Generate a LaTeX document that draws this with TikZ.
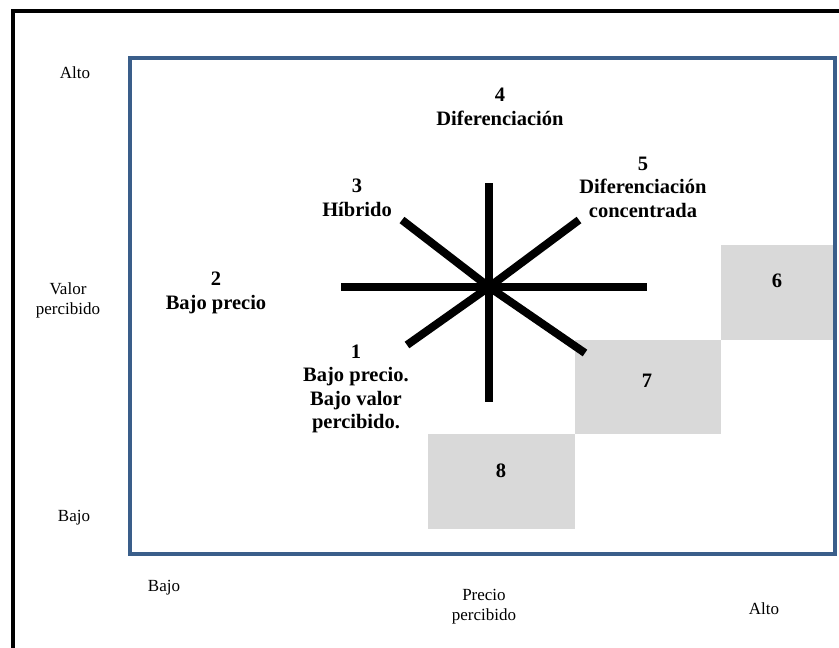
\documentclass[tikz,border=0pt]{standalone}
\usepackage{fontspec}
\setmainfont{Liberation Serif}
\definecolor{frameblue}{RGB}{58,94,138}
\definecolor{boxgray}{RGB}{217,217,217}
\tikzset{
  axislbl/.style={font={\fontsize{17}{20}\selectfont}, align=center, inner sep=0pt},
  stratlbl/.style={font={\fontsize{20.5}{23.5}\selectfont\bfseries}, align=center, inner sep=0pt},
  graybox/.style={fill=boxgray, draw=none, inner sep=0pt, anchor=north west},
  spoke/.style={line width=8pt, line cap=butt},
}
\begin{document}
\begin{tikzpicture}[x=1pt,y=-1pt]
\useasboundingbox (0,0) rectangle (839,648);
\fill[white] (0,0) rectangle (839,648);
% outer black frame (only top and left visible)
\draw[line width=4pt] (13,648) -- (13,11) -- (839,11);
% gray boxes
\node[graybox, minimum width=147pt, minimum height=95pt] (b8) at (428,434) {};
\node[graybox, minimum width=146pt, minimum height=94pt] (b7) at (575,340) {};
\node[graybox, minimum width=115pt, minimum height=95pt] (b6) at (721,245) {};
% blue frame
\draw[frameblue, line width=4pt] (130,58) rectangle (835,554);
% star
\coordinate (c) at (489,287);
\coordinate (n) at (489,183);
\coordinate (s) at (489,402);
\coordinate (w) at (341,287);
\coordinate (e) at (647,287);
\coordinate (nw) at (402,220);
\coordinate (ne) at (579,220);
\coordinate (sw) at (407,345);
\coordinate (se) at (585,353);
\foreach \p in {n,s,w,e,nw,ne,sw,se} \draw[spoke] (c) -- (\p);
% axis labels
\node[axislbl] (altoy) at (75,73) {Alto};
\node[axislbl] (valor) at (68,300) {Valor\\percibido};
\node[axislbl] (bajoy) at (74,518) {Bajo};
\node[axislbl] (bajox) at (164,588) {Bajo};
\node[axislbl] (precio) at (484,607) {Precio\\percibido};
\node[axislbl] (altox) at (764,609) {Alto};
% strategy labels
\node[stratlbl] (s4) at (500,107) {4\\Diferenciación};
\node[stratlbl] (s3) at (357,198) {3\\Híbrido};
\node[stratlbl] (s5) at (643,187) {5\\Diferenciación\\concentrada};
\node[stratlbl] (s2) at (216,293) {2\\Bajo precio};
\node[stratlbl] (s1) at (356,389) {1\\Bajo precio.\\Bajo valor\\percibido.};
\node[stratlbl] (s6) at (777,281) {6};
\node[stratlbl] (s7) at (647,381) {7};
\node[stratlbl] (s8) at (501,471) {8};
\end{tikzpicture}
\end{document}
